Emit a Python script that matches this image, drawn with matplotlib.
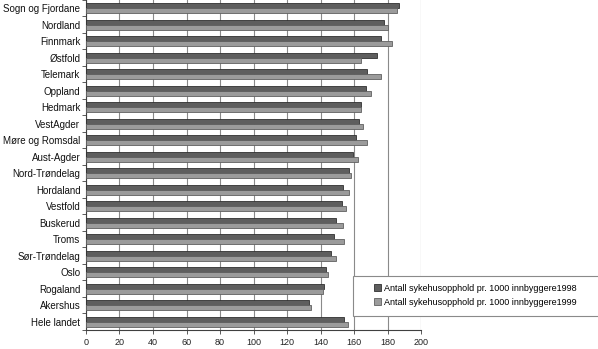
import numpy as np
import matplotlib
matplotlib.use("Agg")
import matplotlib.pyplot as plt
from matplotlib.patches import Rectangle

fylker = ["Sogn og Fjordane", "Nordland", "Finnmark", "Østfold", "Telemark",
          "Oppland", "Hedmark", "VestAgder", "Møre og Romsdal", "Aust-Agder",
          "Nord-Trøndelag", "Hordaland", "Vestfold", "Buskerud", "Troms",
          "Sør-Trøndelag", "Oslo", "Rogaland", "Akershus", "Hele landet"]
aar1998 = [187, 178, 176, 173.5, 168, 167.4, 164, 163.2, 161, 159.2,
           157.2, 153.6, 153, 149, 148.3, 146.5, 143, 142.3, 133, 153.8]
aar1999 = [185.9, 180, 182.5, 164, 176, 170, 164, 165.2, 167.6, 162.2,
           158, 157.2, 155, 153.2, 153.8, 149, 144.3, 141.3, 134.2, 156.2]
serier = ["Antall sykehusopphold pr. 1000 innbyggere1998",
          "Antall sykehusopphold pr. 1000 innbyggere1999"]
xticks = [0, 20, 40, 60, 80, 100, 120, 140, 160, 180, 200]

plt.rcParams['font.family'] = ['Liberation Sans', 'DejaVu Sans']

W, H = 598, 349
fig = plt.figure(figsize=(W / 100, H / 100), dpi=100)
ax = fig.add_axes([86 / W, 1 - 330 / H, (421 - 86) / W, 330 / H])

y = np.arange(len(fylker))
h = 0.31
ax.barh(y - h / 2, aar1998, height=h, color='#5e5e5e', edgecolor='#303030',
        linewidth=0.6, label=serier[0], zorder=3)
ax.barh(y + h / 2, aar1999, height=h, color='#9b9b9b', edgecolor='#606060',
        linewidth=0.6, label=serier[1], zorder=3)

ax.set_ylim(len(fylker) - 0.5, -0.5)
ax.set_xlim(0, 200)
ax.set_xticks(xticks)
ax.set_xticklabels([str(v) for v in xticks], fontsize=6.5, color='#222222')
ax.set_yticks(y)
ax.set_yticklabels(fylker, fontsize=7, color='#111111')
ax.set_yticks(np.arange(len(fylker) + 1) - 0.5, minor=True)
ax.tick_params(axis='y', which='major', length=0, pad=4)
ax.tick_params(axis='y', which='minor', length=3, color='#404040', width=0.6)
ax.tick_params(axis='x', length=3, color='#404040', width=0.6, pad=3)

ax.grid(axis='x', color='#8a8a8a', linewidth=0.8)
ax.set_axisbelow(True)
for s in ['top', 'right']:
    ax.spines[s].set_visible(False)
ax.spines['left'].set_color('#404040')
ax.spines['left'].set_linewidth(0.8)
ax.spines['bottom'].set_color('#404040')
ax.spines['bottom'].set_linewidth(0.8)

# legend box
bx0, by0, bx1, by1 = 353, 275.5, 600, 315.5
fig.patches.append(Rectangle((bx0 / W, 1 - by1 / H), (bx1 - bx0) / W, (by1 - by0) / H,
                             transform=fig.transFigure, facecolor='white',
                             edgecolor='#8a8a8a', linewidth=0.8, zorder=4))
handles, labels = ax.get_legend_handles_labels()
fig.legend(handles, labels, loc='center',
           bbox_to_anchor=((bx0 + 598) / 2 / W, 1 - (by0 + by1) / 2 / H),
           frameon=False, fontsize=6.5, handlelength=0.8, handleheight=0.8,
           handletextpad=0.3, labelspacing=0.55, borderpad=0)

fig.savefig("out.png", dpi=100)
